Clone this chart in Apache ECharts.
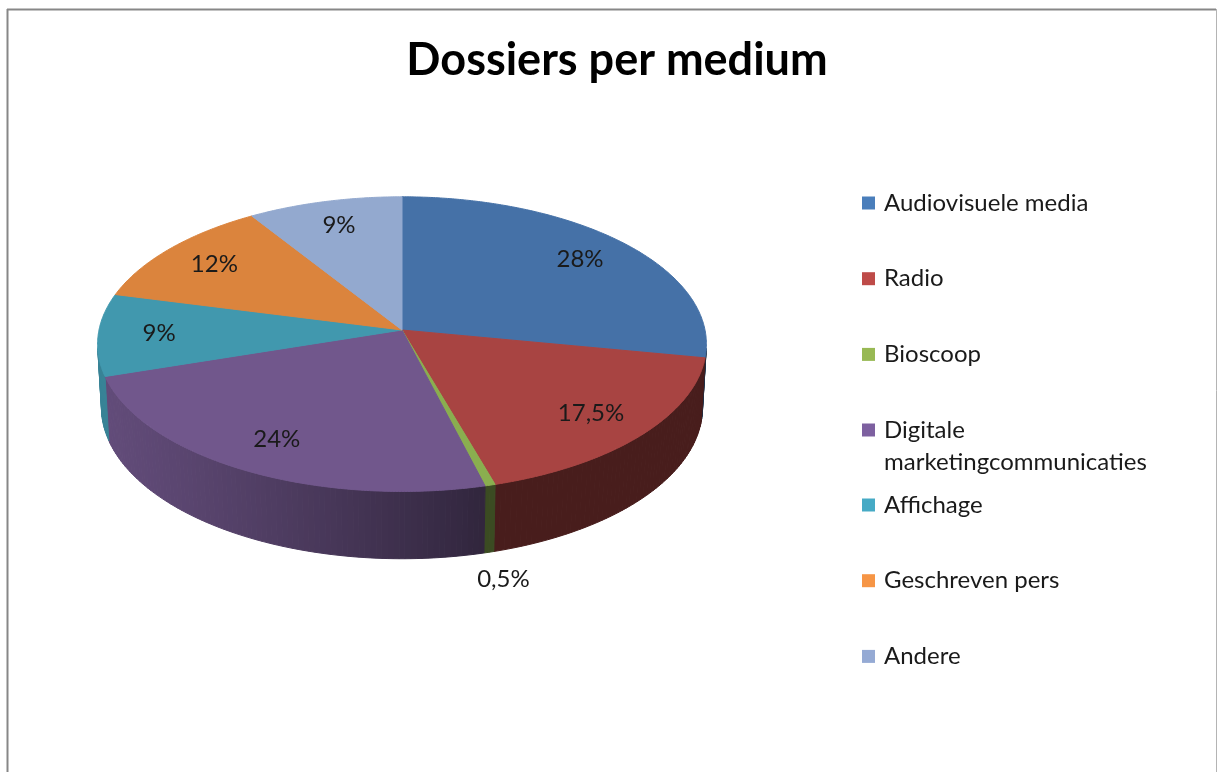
<!DOCTYPE html>
<html>
<head>
<meta charset="utf-8">
<title>Dossiers per medium</title>
<script src="https://cdn.jsdelivr.net/npm/echarts@6/dist/echarts.min.js"></script>
<style>
  html, body { margin: 0; padding: 0; background: #ffffff; }
  #chart { width: 1217px; height: 772px; }
</style>
</head>
<body>
<div id="chart"></div>
<script>
// Share of dossiers per medium (percent)
const categories = [
  'Audiovisuele media',
  'Radio',
  'Bioscoop',
  'Digitale marketingcommunicaties',
  'Affichage',
  'Geschreven pers',
  'Andere'
];
const shares = [28, 17.5, 0.5, 24, 9, 12, 9];

// Legend swatch colours and the lit top-face colours of each slice
const legendColors = ['#4A7EBB', '#BE4B48', '#98B954', '#7D60A0', '#46AAC5', '#F69545', '#95AAD4'];
const topColors    = ['#4571A7', '#A84442', '#8AAE4F', '#71578C', '#4198AE', '#DB843D', '#93A9CF'];

const FONT = 'Lato, "Open Sans", "DejaVu Sans", sans-serif';
const TAU = Math.PI * 2;
const STEP = Math.PI / 180;

// Perspective view of a flat cylinder (unit radius) seen from above-front
const VIEW = {
  cx: 402, cy: 330,        // screen position of the pie centre
  scale: 303,              // half width of the pie at the centre depth
  dist: 9.14,              // camera distance in radii
  tilt: 28.8 * Math.PI / 180,
  depth: 0.24              // thickness of the pie in radii
};

// angle measured clockwise from the back (12 o'clock), h = depth below the top face
function project(r, theta, h) {
  const s = Math.sin(VIEW.tilt), c = Math.cos(VIEW.tilt);
  const X = r * Math.sin(theta);
  const Z = -r * Math.cos(theta);
  const d = VIEW.dist - Z * c + h * s;
  const f = VIEW.scale * VIEW.dist;
  return [VIEW.cx + f * X / d, VIEW.cy + f * (Z * s + h * c) / d];
}

// side lighting: brightest towards the left front
const LIGHT_ANGLE = 255 * Math.PI / 180;
function brightness(theta) {
  return 0.43 + 0.435 * Math.max(0, Math.cos(theta - LIGHT_ANGLE));
}

function shade(hex, k) {
  const n = parseInt(hex.slice(1), 16);
  const ch = [(n >> 16) & 255, (n >> 8) & 255, n & 255].map(v => Math.round(Math.min(255, v * k)));
  return 'rgb(' + ch.join(',') + ')';
}

function formatShare(v) {
  return String(v).replace('.', ',') + '%';
}

function renderSlice(params, api) {
  const i = params.seriesIndex;
  const total = shares.reduce((a, b) => a + b, 0);
  const offset = shares.slice(0, i).reduce((a, b) => a + b, 0);
  const value = api.value(0);
  const a0 = offset / total * TAU;
  const a1 = (offset + value) / total * TAU;
  const top = topColors[i];
  const children = [];

  // outer wall, only the part that faces the camera
  const limit = Math.acos(-1 / (VIEW.dist * Math.cos(VIEW.tilt)));
  const w0 = Math.max(a0, limit);
  const w1 = Math.min(a1, TAU - limit);
  if (w1 > w0) {
    const n = Math.max(1, Math.ceil((w1 - w0) / STEP));
    for (let k = 0; k < n; k++) {
      const t0 = w0 + (w1 - w0) * k / n;
      const t1 = w0 + (w1 - w0) * (k + 1) / n;
      const col = shade(top, brightness((t0 + t1) / 2));
      children.push({
        type: 'polygon',
        z2: 1,
        shape: { points: [project(1, t0, 0), project(1, t1, 0), project(1, t1, VIEW.depth), project(1, t0, VIEW.depth)] },
        style: { fill: col, stroke: col, lineWidth: 1 },
        silent: true
      });
    }
  }

  // top face
  const pts = [project(0, 0, 0)];
  const m = Math.max(2, Math.ceil((a1 - a0) / (STEP / 2)));
  for (let k = 0; k <= m; k++) pts.push(project(1, a0 + (a1 - a0) * k / m, 0));
  children.push({
    type: 'polygon',
    z2: 2,
    shape: { points: pts },
    style: { fill: top, stroke: top, lineWidth: 1 }
  });

  // value label: inside the slice, or below the wall for very thin slices
  const mid = (a0 + a1) / 2;
  const p = value / total < 0.03 ? project(1.15, mid, VIEW.depth) : project(0.8, mid, 0);
  children.push({
    type: 'text',
    z2: 3,
    silent: true,
    style: {
      text: formatShare(value),
      x: p[0], y: p[1],
      fill: '#1a1a1a',
      font: '24px ' + FONT,
      align: 'center',
      verticalAlign: 'middle'
    }
  });

  return { type: 'group', children: children };
}

const series = categories.map((name, i) => ({
  type: 'custom',
  name: name,
  coordinateSystem: 'none',
  renderItem: renderSlice,
  itemStyle: { color: legendColors[i] },
  data: [[shares[i]]],
  animation: false
}));

const legendBase = {
  orient: 'vertical',
  left: 862,
  padding: 0,
  icon: 'rect',
  itemWidth: 13,
  itemHeight: 13,
  itemGap: 43.7,
  selectedMode: false,
  textStyle: { fontFamily: FONT, fontSize: 24, lineHeight: 32, color: '#1a1a1a', padding: [0, 0, 0, 4] }
};

const chart = echarts.init(document.getElementById('chart'), null, { renderer: 'canvas' });
chart.setOption({
  backgroundColor: '#ffffff',
  animation: false,
  title: {
    text: 'Dossiers per medium',
    left: 612,
    textAlign: 'center',
    top: 33,
    textStyle: { fontFamily: FONT, fontSize: 45, fontWeight: 'bold', color: '#000000' }
  },
  legend: [
    Object.assign({}, legendBase, { top: 187, data: categories.slice(0, 3) }),
    Object.assign({}, legendBase, {
      top: 382,
      data: categories.slice(3, 4),
      formatter: () => '\nDigitale\nmarketingcommunicaties'
    }),
    Object.assign({}, legendBase, { top: 489, data: categories.slice(4) })
  ],
  graphic: [
    { type: 'line', shape: { x1: 7, y1: 9.5, x2: 1216, y2: 9.5 }, style: { stroke: '#878787', lineWidth: 2 }, silent: true },
    { type: 'line', shape: { x1: 7.5, y1: 9, x2: 7.5, y2: 772 }, style: { stroke: '#878787', lineWidth: 2 }, silent: true },
    { type: 'line', shape: { x1: 1216.5, y1: 9, x2: 1216.5, y2: 772 }, style: { stroke: '#b4b4b4', lineWidth: 1 }, silent: true }
  ],
  series: series
});
</script>
</body>
</html>
